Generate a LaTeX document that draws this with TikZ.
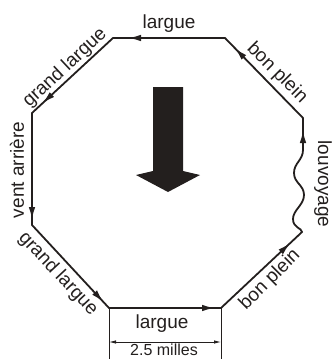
\documentclass[tikz,border=0pt]{standalone}
\usepackage{fontspec}
\setmainfont{Liberation Sans}
\usetikzlibrary{arrows.meta,decorations.markings}
\definecolor{ink}{RGB}{35,31,30}
\begin{document}
\begin{tikzpicture}[x=1pt,y=-1pt,
  lbl/.style={font=\fontsize{19}{22}\selectfont, text=ink, inner sep=0pt},
  smalllbl/.style={font=\fontsize{16}{19}\selectfont, text=ink, inner sep=0pt},
  route/.style={draw=ink, line width=1.8pt, line cap=round},
  arr/.style={postaction={decorate}, decoration={markings, mark=at position #1 with {\arrow{Latex[length=13pt,width=6.5pt]}}}},
  guide/.style={draw=ink, line width=0.8pt},
]
\useasboundingbox (0,0) rectangle (332,359);
% vertices
\coordinate (A) at (109,308);
\coordinate (B) at (221,308);
\coordinate (C) at (302,232);
\coordinate (D) at (303,118);
\coordinate (E) at (225,38);
\coordinate (F) at (113,38);
\coordinate (G) at (32,113);
\coordinate (H) at (32,225);
\coordinate (A2) at (109,359);
\coordinate (B2) at (221,359);
\coordinate (DA) at (109,342);
\coordinate (DB) at (221,342);

% route
\draw[route, arr=-6pt] (A) -- (B);
\draw[route, arr=-16pt] (B) -- (C);
\draw[route, arr=-12pt] (C) .. controls (302,228) and (293,228) .. (293,219)
   .. controls (293,210) and (304,205) .. (304,195)
   .. controls (304,185) and (294,183) .. (294,173)
   .. controls (294,163) and (303,160) .. (303,150) -- (D);
\draw[route, arr=-14pt] (D) -- (E);
\draw[route, arr=-15pt] (E) -- (F);
\draw[route, arr=-14pt] (F) -- (G);
\draw[route, arr=-5pt] (G) -- (H);
\draw[route, arr=-8pt] (H) -- (A);

% dimension
\draw[guide] (A) -- (A2);
\draw[guide] (B) -- (B2);
\draw[guide, {Latex[length=7pt,width=3.5pt]}-{Latex[length=7pt,width=3.5pt]}] (DA) -- (DB);

% wind arrow
\fill[ink] (153,87) -- (183,87) -- (183,171) -- (200,175) -- (168,192) -- (136,175) -- (153,171) -- cycle;

% labels
\node[lbl, anchor=base] (l1) at (169,28) {largue};
\node[lbl, rotate=-45] (l2) at (277,73) {bon plein};
\node[lbl, rotate=-90] (l3) at (323,184) {louvoyage};
\node[lbl, rotate=45] (l4) at (270,280) {bon plein};
\node[lbl, anchor=base] (l5) at (162,328) {largue};
\node[smalllbl, anchor=base] (l6) at (164,355.5) {2.5 milles};
\node[lbl, rotate=-47] (l7) at (58,274) {grand largue};
\node[lbl, rotate=90] (l8) at (17,170) {vent arrière};
\node[lbl, rotate=43] (l9) at (65,68) {grand largue};
\end{tikzpicture}
\end{document}
